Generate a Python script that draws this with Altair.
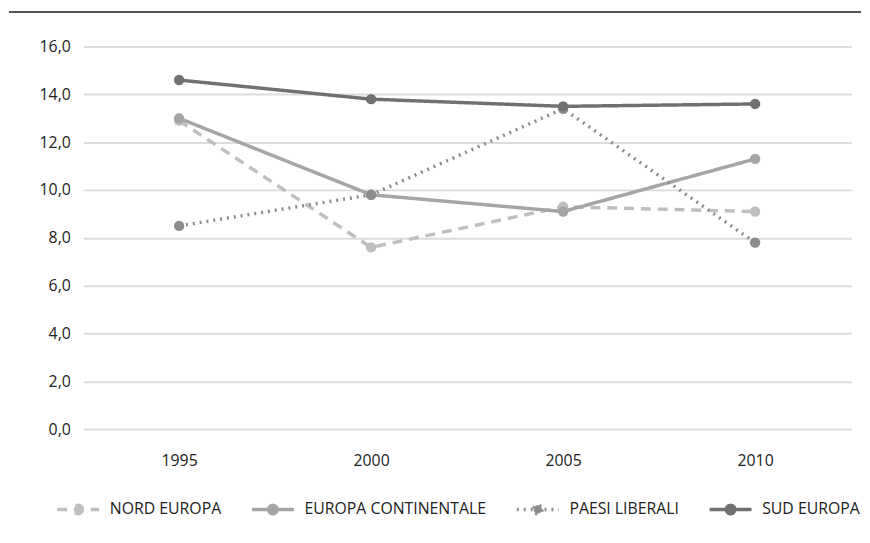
import altair as alt
import pandas as pd

years = ["1995", "2000", "2005", "2010"]
series = ["NORD EUROPA", "EUROPA CONTINENTALE", "PAESI LIBERALI", "SUD EUROPA"]
nord = [12.9, 7.6, 9.3, 9.1]
continentale = [13.0, 9.8, 9.1, 11.3]
liberali = [8.5, 9.8, 13.4, 7.8]
sud = [14.6, 13.8, 13.5, 13.6]

colors = ["#bfbfbf", "#a5a5a5", "#8c8c8c", "#707070"]
dashes = [[10, 7], [1, 0], [2, 5], [1, 0]]

rows = []
for name, vals in zip(series, [nord, continentale, liberali, sud]):
    for y, v in zip(years, vals):
        rows.append({"anno": y, "serie": name, "valore": v})
df = pd.DataFrame(rows)

FONT = "Open Sans"
SYMBOL = "M-1,0L1,0M0.2,0A0.2,0.2 0 1 1 -0.2,0A0.2,0.2 0 1 1 0.2,0Z"

color_scale = alt.Scale(domain=series, range=colors)
dash_scale = alt.Scale(domain=series, range=dashes)

legend = alt.Legend(orient="none", legendX=-28, legendY=445,
                    direction="horizontal", title=None,
                    labelFontSize=16, labelFont=FONT, labelColor="#222222", labelLimit=0,
                    symbolType=SYMBOL, symbolSize=1800, symbolStrokeWidth=3.5,
                    labelOffset=9, columnPadding=23)

x_enc = alt.X("anno:N", sort=years, title=None,
              scale=alt.Scale(type="point", padding=0.5),
              axis=alt.Axis(labelAngle=0, domain=False, ticks=False, labelPadding=24,
                            labelFontSize=16, labelColor="#222222", labelFont=FONT, grid=False))
y_enc = alt.Y("valore:Q", title=None,
              scale=alt.Scale(domain=[0, 16]),
              axis=alt.Axis(values=[0, 2, 4, 6, 8, 10, 12, 14, 16],
                            labelExpr="replace(format(datum.value, '.1f'), '.', ',')",
                            domain=False, ticks=False, labelPadding=13,
                            labelFontSize=16, labelColor="#222222", labelFont=FONT,
                            gridColor="#dcdcdc", gridWidth=2))

base = alt.Chart(df)

lines = base.mark_line(strokeWidth=3.5).encode(
    x=x_enc, y=y_enc,
    color=alt.Color("serie:N", scale=color_scale, sort=series, legend=legend),
    strokeDash=alt.StrokeDash("serie:N", scale=dash_scale, sort=series, legend=legend),
    order=alt.Order("anno:N"),
)

points = base.mark_point(size=110, filled=True, opacity=1, strokeWidth=0).encode(
    x=x_enc, y=y_enc,
    fill=alt.Fill("serie:N", scale=alt.Scale(domain=series, range=colors), sort=series, legend=legend),
)

top_rule = alt.Chart(pd.DataFrame({"a": [0]})).mark_rule(color="#555555", strokeWidth=2).encode(
    x=alt.value(-75), x2=alt.value(787), y=alt.value(-35)
)

chart = alt.layer(lines, points, top_rule).properties(
    width=777, height=387,
    padding={"left": 0, "top": 0, "right": 0, "bottom": 0},
).configure_view(stroke=None)

chart.save("out.html", embed_options={"renderer": "svg", "actions": False})
